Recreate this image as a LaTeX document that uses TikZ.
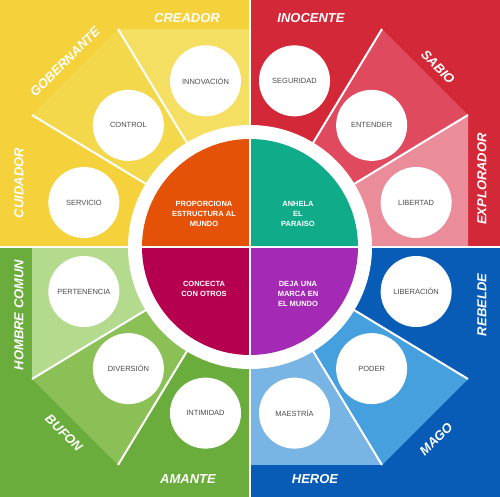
\documentclass[tikz,border=0pt]{standalone}
\usepackage{fontspec}
\setmainfont{Liberation Sans}

\definecolor{amarillo}{HTML}{F5D23B}
\definecolor{amarilloMedio}{HTML}{F4D84C}
\definecolor{amarilloClaro}{HTML}{F5DF62}
\definecolor{rojo}{HTML}{D32838}
\definecolor{rojoMedio}{HTML}{E04A5E}
\definecolor{rojoClaro}{HTML}{EB8C9B}
\definecolor{azul}{HTML}{095CB6}
\definecolor{azulMedio}{HTML}{47A0DE}
\definecolor{azulClaro}{HTML}{78B4E4}
\definecolor{verde}{HTML}{6AAD3C}
\definecolor{verdeMedio}{HTML}{8BC057}
\definecolor{verdeClaro}{HTML}{B4DA8D}
\definecolor{naranja}{HTML}{E45208}
\definecolor{turquesa}{HTML}{10AC8A}
\definecolor{granate}{HTML}{B5004F}
\definecolor{morado}{HTML}{A42AB5}
\definecolor{textogris}{HTML}{4D4D4D}

\begin{document}
\begin{tikzpicture}[x=1pt,y=1pt,
    arquetipo/.style={text=white, inner sep=0pt, font=\bfseries\itshape\fontsize{13}{15}\selectfont},
    valor/.style={circle, fill=white, minimum size=71pt, inner sep=0pt, text=textogris, font=\fontsize{7.5}{9}\selectfont},
    deseo/.style={text=white, align=center, inner sep=0pt, font=\bfseries\fontsize{7.5}{10}\selectfont},
    separador/.style={white, line width=2pt}]
    \useasboundingbox (0,0) rectangle (500,497);

    % Cuadrantes
    \fill[amarillo] (0,250) rectangle (250,497);
    \fill[rojo] (250,250) rectangle (500,497);
    \fill[verde] (0,0) rectangle (250,250);
    \fill[azul] (250,0) rectangle (500,250);

    \begin{scope}[shift={(250,250)}]
    % Cuñas
    \fill[amarilloMedio] (0,0) -- (-218,132) -- (-132,218) -- cycle;
    \fill[amarilloClaro] (0,0) -- (-132,218) -- (0,218) -- cycle;
    \fill[rojoMedio] (0,0) -- (132,218) -- (218,132) -- cycle;
    \fill[rojoClaro] (0,0) -- (218,132) -- (218,0) -- cycle;
    \fill[azulMedio] (0,0) -- (218,-132) -- (132,-218) -- cycle;
    \fill[azulClaro] (0,0) -- (132,-218) -- (0,-218) -- cycle;
    \fill[verdeMedio] (0,0) -- (-132,-218) -- (-218,-132) -- cycle;
    \fill[verdeClaro] (0,0) -- (-218,-132) -- (-218,0) -- cycle;

    % Separadores
    \foreach \p in {(-218,132),(-132,218),(132,218),(218,132),(218,-132),(132,-218),(-132,-218),(-218,-132)}
        \draw[separador] (0,0) -- \p;
    \draw[separador] (0,-250) -- (0,247);
    \draw[separador] (-250,0) -- (250,0);

    % Anillo y centro
    \fill[white] (0,0) circle (122);
    \fill[naranja] (0,0) -- (-108,0) arc[start angle=180, end angle=90, radius=108] -- cycle;
    \fill[turquesa] (0,0) -- (0,108) arc[start angle=90, end angle=0, radius=108] -- cycle;
    \fill[morado] (0,0) -- (108,0) arc[start angle=0, end angle=-90, radius=108] -- cycle;
    \fill[granate] (0,0) -- (0,-108) arc[start angle=-90, end angle=-180, radius=108] -- cycle;
    \draw[separador] (-110,0) -- (110,0);
    \draw[separador] (0,-110) -- (0,110);

    \node[deseo] (estructura) at (-46,33) {PROPORCIONA\\ESTRUCTURA AL\\MUNDO};
    \node[deseo] (paraiso) at (48,33) {ANHELA\\EL\\PARAISO};
    \node[deseo] (conecta) at (-46,-42) {CONCECTA\\CON OTROS};
    \node[deseo] (marca) at (48,-47) {DEJA UNA\\MARCA EN\\EL MUNDO};

    % Valores
    \node[valor] (innovacion) at (105:172) {INNOVACIÓN};
    \node[valor] (control) at (135:172) {CONTROL};
    \node[valor] (servicio) at (165:172) {SERVICIO};
    \node[valor] (seguridad) at (75:172) {SEGURIDAD};
    \node[valor] (entender) at (45:172) {ENTENDER};
    \node[valor] (libertad) at (15:172) {LIBERTAD};
    \node[valor] (liberacion) at (-15:172) {LIBERACIÓN};
    \node[valor] (poder) at (-45:172) {PODER};
    \node[valor] (maestria) at (-75:172) {MAESTRÍA};
    \node[valor] (intimidad) at (-105:172) {INTIMIDAD};
    \node[valor] (diversion) at (-135:172) {DIVERSIÓN};
    \node[valor] (pertenencia) at (-165:172) {PERTENENCIA};

    % Arquetipos
    \node[arquetipo] (creador) at (-63,229) {CREADOR};
    \node[arquetipo, rotate=45] (gobernante) at (-185,185) {GOBERNANTE};
    \node[arquetipo, rotate=90] (cuidador) at (-231,64) {CUIDADOR};
    \node[arquetipo] (inocente) at (61,229) {INOCENTE};
    \node[arquetipo, rotate=-45] (sabio) at (188,180) {SABIO};
    \node[arquetipo, rotate=90] (explorador) at (232,68) {EXPLORADOR};
    \node[arquetipo, rotate=90] (rebelde) at (232,-58) {REBELDE};
    \node[arquetipo, rotate=45] (mago) at (186,-192) {MAGO};
    \node[arquetipo] (heroe) at (65,-232) {HEROE};
    \node[arquetipo] (amante) at (-62,-232) {AMANTE};
    \node[arquetipo, rotate=-45] (bufon) at (-186,-186) {BUFON};
    \node[arquetipo, rotate=90] (hombre) at (-231,-68) {HOMBRE COMUN};
    \end{scope}
\end{tikzpicture}
\end{document}
